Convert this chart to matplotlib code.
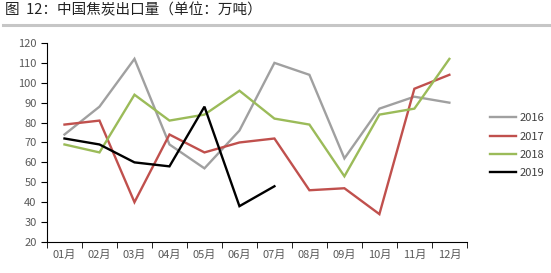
import matplotlib
matplotlib.use('Agg')
import matplotlib.pyplot as plt
from matplotlib.lines import Line2D
import numpy as np

plt.rcParams['font.family'] = ['Noto Sans CJK SC', 'DejaVu Sans']

# 数据
months = ['01月', '02月', '03月', '04月', '05月', '06月',
          '07月', '08月', '09月', '10月', '11月', '12月']
y2016 = [74, 88, 112, 69, 57, 76, 110, 104, 62, 87, 93, 90]
y2017 = [79, 81, 40, 74, 65, 70, 72, 46, 47, 34, 97, 104]
y2018 = [69, 65, 94, 81, 84, 96, 82, 79, 53, 84, 87, 112]
y2019 = [72, 69, 60, 58, 88, 38, 48]
years = ['2016', '2017', '2018', '2019']
colors = ['#a0a0a0', '#c0504d', '#9bbb59', '#000000']

fig = plt.figure(figsize=(5.51, 2.73), dpi=100)
ax = fig.add_axes([0.0853, 0.1136, 0.762, 0.729])

x = np.arange(len(months))
for vals, c in zip([y2016, y2017, y2018, y2019], colors):
    ax.plot(x[:len(vals)], vals, color=c, lw=1.7, solid_joinstyle='miter')

ax.set_xlim(-0.5, 11.5)
ax.set_ylim(20, 120)
ax.set_yticks(range(20, 121, 10))
ax.set_xticks(x)
ax.set_xticklabels(months)
ax.set_xticks(np.arange(-0.5, 12, 1), minor=True)
ax.tick_params(axis='x', which='major', length=0, pad=6, labelsize=8, labelcolor='#595959')
ax.tick_params(axis='x', which='minor', length=4, direction='out', color='#000000')
ax.tick_params(axis='y', length=4, direction='out', labelsize=8, labelcolor='#595959')
for s in ['top', 'right']:
    ax.spines[s].set_visible(False)
for s in ['left', 'bottom']:
    ax.spines[s].set_color('#000000')
    ax.spines[s].set_linewidth(0.8)

handles = [Line2D([], [], color=c, lw=1.7) for c in colors]
fig.legend(handles, years, loc='upper left', bbox_to_anchor=(0.872, 0.622),
           frameon=False, fontsize=8, handlelength=2.3, handletextpad=0.3,
           labelspacing=0.75, labelcolor='#404040')

fig.text(0.009, 0.963, '图  12：中国焦炭出口量（单位：万吨）', fontsize=10.5,
         va='center', ha='left', color='#222222')
fig.add_artist(Line2D([0.005, 1.0], [0.908, 0.908], transform=fig.transFigure,
                      color='#c6c6c6', lw=2.2))

fig.savefig('out.png', dpi=100)
